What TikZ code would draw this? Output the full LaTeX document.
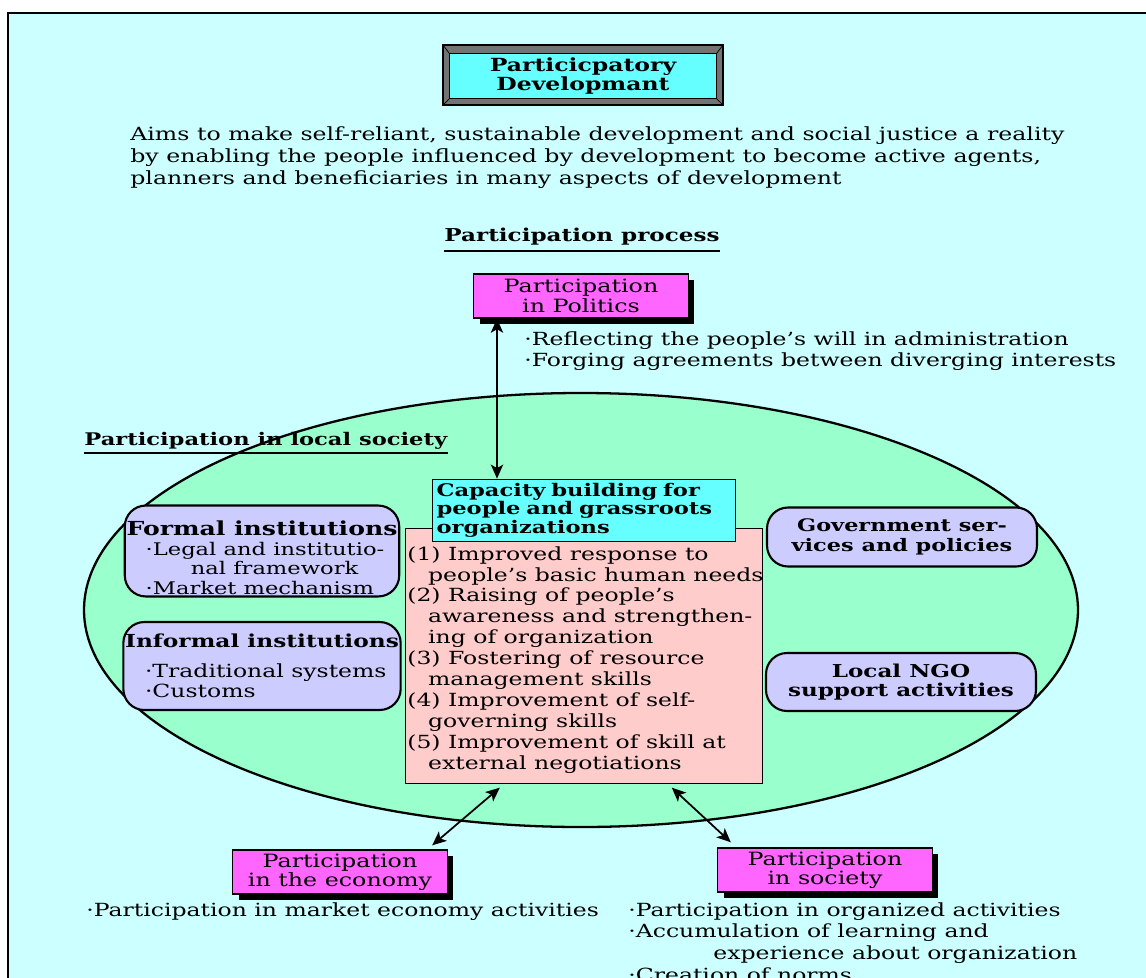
\documentclass[tikz,border=0pt]{standalone}
\usepackage{fontspec}
\setmainfont{DejaVu Serif}[FakeStretch=1.3]
\usepackage{tikz}
\usetikzlibrary{calc}
\usetikzlibrary{shadows}
\usetikzlibrary{arrows.meta}
\definecolor{panelcyan}{HTML}{CCFFFF}
\definecolor{boxcyan}{HTML}{66FFFF}
\definecolor{ellgreen}{HTML}{99FFCC}
\definecolor{skillpink}{HTML}{FFCCCC}
\definecolor{instlav}{HTML}{CCCCFF}
\definecolor{partmag}{HTML}{FF66FF}
\tikzset{
  partbox/.style={draw, thick, fill=partmag, align=center, inner sep=1pt,
    minimum width=4.3cm, minimum height=0.88cm,
    general shadow={fill=black, shadow xshift=0.12cm, shadow yshift=-0.12cm},
    font=\fontsize{10.4}{11}\selectfont},
  instbox/.style={draw, line width=1.2pt, fill=instlav, rounded corners=0.42cm,
    minimum width=5.4cm, inner sep=1pt},
  bultext/.style={align=left, inner sep=0pt, font=\fontsize{10.3}{12.4}\selectfont},
  dblarrow/.style={{Stealth[length=8pt,width=7pt,inset=2pt]}-{Stealth[length=8pt,width=7pt,inset=2pt]},
    line width=1pt}
}
\newcommand{\partbox}[4]{\node[partbox] (#1) at ( #2 , #3 ) {#4};}
\newcommand{\bevel}[4]{\draw[fill=black!55, line width=0.8pt] ( #1 , #2 ) rectangle ( #3 , #4 );}
\begin{document}
\begin{tikzpicture}[x=0.02cm, y=-0.02cm]
\useasboundingbox (0,0) rectangle (1146,977);
\clip (0,0) rectangle (1146,977);
% panel
\draw[fill=panelcyan, line width=1pt] (8,13) rectangle (1170,1000);
% title with bevel frame
\bevel{443}{45}{723}{105}
\node[draw, fill=boxcyan, minimum width=5.34cm, minimum height=0.9cm, align=center,
  inner sep=0pt, font=\bfseries\fontsize{10.3}{11}\selectfont] (pdev) at (583,76)
  {Particicpatory\\Developmant};
\draw (443,45) -- (pdev.north west) (723,45) -- (pdev.north east)
      (443,105) -- (pdev.south west) (723,105) -- (pdev.south east);
\node[anchor=north west, bultext, font=\fontsize{10.35}{12.7}\selectfont] (aims) at (130,126)
  {Aims to make self-reliant, sustainable development and social justice a reality\\
   by enabling the people influenced by development to become active agents,\\
   planners and beneficiaries in many aspects of development};
% participation process
\node[inner sep=0pt, font=\bfseries\fontsize{10.1}{12}\selectfont] (process) at (582,237) {Participation process};
\draw[line width=1.2pt] (process.south west) ++(0,5) coordinate (ulA) -- (ulA -| process.south east);
\partbox{politics}{581}{296}{Participation\\in Politics}
\node[anchor=north west, bultext] (polbul) at (524,331)
  {·Reflecting the people's will in administration\\
   ·Forging agreements between diverging interests};
% local society
\draw[fill=ellgreen, line width=1.3pt] (581,610) ellipse [x radius=497, y radius=217];
\node[anchor=west, inner sep=0pt, font=\bfseries\fontsize{9.9}{12}\selectfont] (local) at (84,441) {Participation in local society};
\draw[line width=1.2pt] (local.south west) ++(0,3) coordinate (ulB) -- (ulB -| local.south east);
\node[draw, fill=skillpink, anchor=north west, minimum width=7.14cm, minimum height=5.1cm] (skills) at (405,528) {};
\node[anchor=north west, align=left, inner sep=0pt, font=\fontsize{10.3}{11.9}\selectfont] (skilltext)
  at ($(skills.north west)+(2,18)$)
  {(1) Improved response to\\
   \hspace*{1.15em}people's basic human needs\\
   (2) Raising of people's\\
   \hspace*{1.15em}awareness and strengthen-\\
   \hspace*{1.15em}ing of organization\\
   (3) Fostering of resource\\
   \hspace*{1.15em}management skills\\
   (4) Improvement of self-\\
   \hspace*{1.15em}governing skills\\
   (5) Improvement of skill at\\
   \hspace*{1.15em}external negotiations};
\node[draw, fill=boxcyan, text width=5.9cm, minimum height=1.22cm, align=left,
  inner sep=0.08cm, font=\bfseries\fontsize{9.9}{10.5}\selectfont] (capacity) at (584,510)
  {Capacity building for\\people and grassroots\\organizations};
\node[instbox, minimum height=1.74cm, align=left, font=\fontsize{9.9}{11.2}\selectfont] (formal) at (262,551)
  {\rule{0pt}{16pt}{\fontsize{11}{11}\selectfont\textbf{Formal institutions}}\\
   \hspace*{1.1em}·Legal and institutio-\\
   \hspace*{3.7em}nal framework\\
   \hspace*{1.1em}·Market mechanism};
\node[instbox, minimum height=1.76cm, align=left, font=\fontsize{10.3}{11.2}\selectfont] (informal) at (262,666)
  {{\fontsize{10.2}{11}\selectfont\textbf{Informal institutions}}\\[6pt]
   \hspace*{1.1em}·Traditional systems\\
   \hspace*{1.1em}·Customs};
\node[instbox, minimum height=1.18cm, align=center, font=\bfseries\fontsize{9.8}{11}\selectfont] (govt) at (902,537)
  {Government ser-\\vices and policies};
\node[instbox, minimum height=1.16cm, align=center, font=\bfseries\fontsize{10.1}{11}\selectfont] (ngo) at (901,682)
  {Local NGO\\support activities};
% economy and society
\partbox{economy}{340}{872}{Participation\\in the economy}
\partbox{society}{825}{870}{Participation\\in society}
\node[anchor=west, bultext] (econbul) at (86,912) {·Participation in market economy activities};
\node[anchor=north west, bultext] (socbul) at (628,902)
  {·Participation in organized activities\\
   ·Accumulation of learning and\\
   \hspace*{4.7em}experience about organization\\
   ·Creation of norms};
% arrows
\coordinate (polarr) at (497,0);
\draw[dblarrow] (politics.south -| polarr) -- (capacity.north -| polarr);
\draw[dblarrow] ($(skills.south)+(-84,4)$) -- ($(economy.north east)+(-16,-4)$);
\draw[dblarrow] ($(skills.south)+(88,4)$) -- ($(society.north west)+(14,-5)$);
\end{tikzpicture}
\end{document}
